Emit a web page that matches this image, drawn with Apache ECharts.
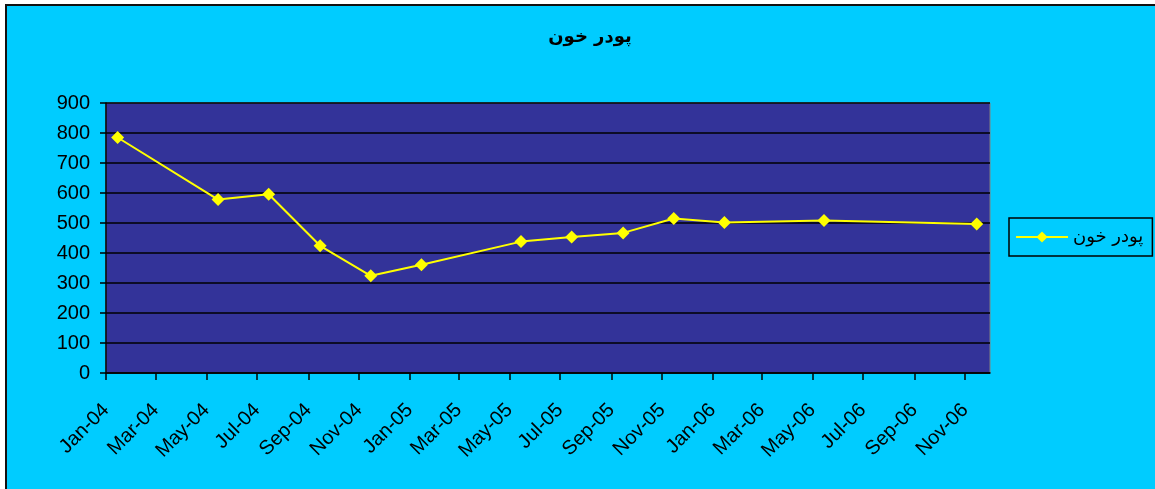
<!DOCTYPE html>
<html>
<head>
<meta charset="utf-8">
<script src="https://cdn.jsdelivr.net/npm/echarts@6/dist/echarts.min.js"></script>
<style>
  html, body { margin: 0; padding: 0; background: #fff; }
  #chart { width: 1155px; height: 489px; }
</style>
</head>
<body>
<div id="chart"></div>
<script>
// data
var seriesName = 'پودر خون';
var pointDates = ['2004-01-15', '2004-05-15', '2004-07-15', '2004-09-15', '2004-11-15', '2005-01-15',
                  '2005-05-15', '2005-07-15', '2005-09-15', '2005-11-15', '2006-01-15', '2006-05-15', '2006-11-15'];
var pointValues = [785, 578, 596, 424, 324, 361, 438, 453, 467, 515, 502, 508, 497];
var tickDates = ['2004-01-01', '2004-03-01', '2004-05-01', '2004-07-01', '2004-09-01', '2004-11-01',
                 '2005-01-01', '2005-03-01', '2005-05-01', '2005-07-01', '2005-09-01', '2005-11-01',
                 '2006-01-01', '2006-03-01', '2006-05-01', '2006-07-01', '2006-09-01', '2006-11-01'];
var monthNames = ['Jan', 'Feb', 'Mar', 'Apr', 'May', 'Jun', 'Jul', 'Aug', 'Sep', 'Oct', 'Nov', 'Dec'];

// dates -> day numbers (UTC) so a plain value axis can place them
var DAY = 86400000;
function toDay(s) {
    var p = s.split('-');
    return Date.UTC(+p[0], +p[1] - 1, +p[2]) / DAY;
}
var tickDays = tickDates.map(toDay);
var seriesData = pointDates.map(function (d, i) { return [toDay(d), pointValues[i]]; });

var chart = echarts.init(document.getElementById('chart'));
var option = {
    backgroundColor: '#ffffff',
    animation: false,
    textStyle: { fontFamily: 'Arial, "Liberation Sans", "DejaVu Sans", sans-serif' },
    graphic: [{
        type: 'rect', z: -10, silent: true,
        shape: { x: 6, y: 5, width: 1400, height: 700 },
        style: { fill: '#00ccff', stroke: '#111', lineWidth: 2 }
    }],
    title: {
        text: seriesName,
        left: 585, top: 23, textAlign: 'center',
        textStyle: { fontSize: 18, fontWeight: 'bold', color: '#000', fontFamily: '"DejaVu Sans", sans-serif' }
    },
    legend: {
        left: 1009, top: 218,
        padding: [10, 9, 10, 6],
        borderColor: '#000', borderWidth: 1.5,
        itemWidth: 52, itemHeight: 14, itemGap: 4,
        textStyle: { fontSize: 18, color: '#000', fontFamily: '"DejaVu Sans", sans-serif' },
        data: [seriesName]
    },
    grid: {
        left: 106, right: 165, top: 103, bottom: 116,
        show: true, backgroundColor: '#333399', borderColor: '#808080', borderWidth: 1
    },
    xAxis: {
        type: 'value',
        min: toDay('2004-01-01'),
        max: toDay('2006-12-01'),
        axisLine: { lineStyle: { color: '#000', width: 1.5 } },
        axisTick: { show: true, length: 7, lineStyle: { color: '#000', width: 1.5 }, customValues: tickDays },
        axisLabel: {
            customValues: tickDays,
            rotate: 45, margin: 34, fontSize: 20, color: '#000',
            formatter: function (v) {
                var d = new Date(v * DAY);
                return monthNames[d.getUTCMonth()] + '-' + String(d.getUTCFullYear()).slice(2);
            }
        },
        splitLine: { show: false }
    },
    yAxis: {
        type: 'value',
        min: 0, max: 900, interval: 100,
        axisLine: { show: true, lineStyle: { color: '#000', width: 1.5 } },
        axisTick: { show: true, length: 6, lineStyle: { color: '#000', width: 1.5 } },
        axisLabel: { fontSize: 20, color: '#000', margin: 16 },
        splitLine: { show: true, lineStyle: { color: '#000', width: 1.5 } }
    },
    series: [{
        name: seriesName,
        type: 'line',
        data: seriesData,
        symbol: 'diamond',
        symbolSize: 13,
        lineStyle: { color: '#ffff00', width: 2 },
        itemStyle: { color: '#ffff00' }
    }]
};
chart.setOption(option);
</script>
</body>
</html>
